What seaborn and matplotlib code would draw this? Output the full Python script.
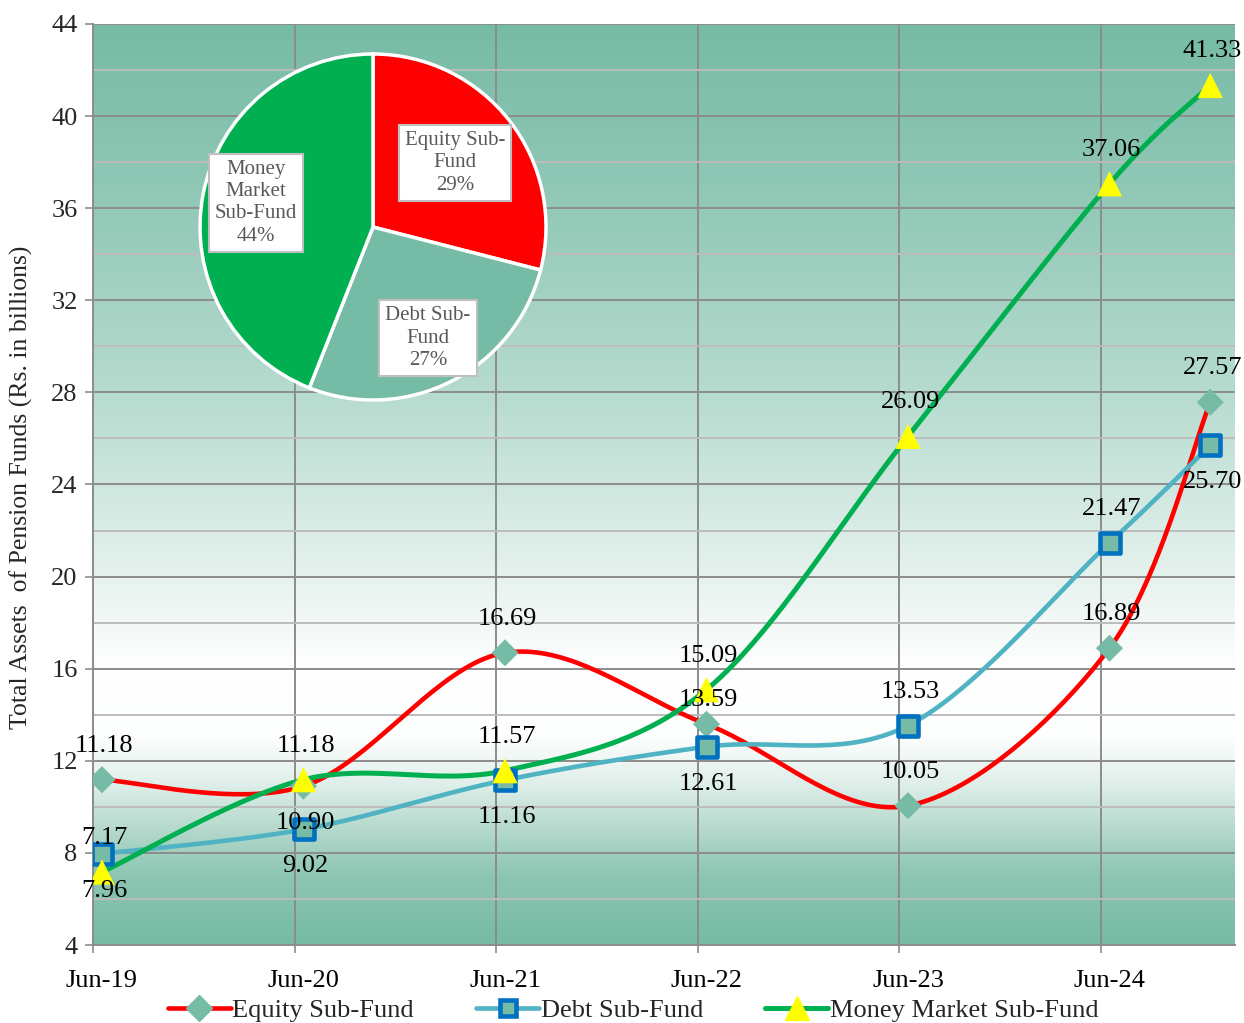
import numpy as np
import pandas as pd
import matplotlib
matplotlib.use("Agg")
import matplotlib.pyplot as plt
import seaborn as sns
from matplotlib.colors import to_rgb
from matplotlib.lines import Line2D

# ---------------- data ----------------
periods = ["Jun-19", "Jun-20", "Jun-21", "Jun-22", "Jun-23", "Jun-24", "Dec-24"]
period_years = [0, 1, 2, 3, 4, 5, 5.5]          # years after Jun-19
equity = [11.18, 10.90, 16.69, 13.59, 10.05, 16.89, 27.57]
debt = [7.96, 9.02, 11.16, 12.61, 13.53, 21.47, 25.70]
money_market = [7.17, 11.18, 11.57, 15.09, 26.09, 37.06, 41.33]
x_tick_labels = ["Jun-19", "Jun-20", "Jun-21", "Jun-22", "Jun-23", "Jun-24"]
series_names = ["Equity Sub-Fund", "Debt Sub-Fund", "Money Market Sub-Fund"]
pie_labels = ["Equity Sub-\nFund", "Debt Sub-\nFund", "Money\nMarket\nSub-Fund"]
pie_shares = [29, 27, 44]

# ---------------- style ----------------
sns.set_theme(style="white")
plt.rcParams['font.family'] = ['Liberation Serif', 'DejaVu Serif']

RED = "#ff0000"
DEBT_LINE = "#4fb3c3"
GREEN = "#00b050"
TEAL = "#76bba5"
BLUE = "#0070c0"
YELLOW = "#ffff00"
GRID = "#8c8c8c"
GRID_MINOR = "#bcbcbc"
FS = 19

W, H = 1244, 1023
fig = plt.figure(figsize=(W / 100, H / 100), dpi=100)
ax_l, ax_r, ax_t, ax_b = 93, 1235, 24, 945
ax = fig.add_axes([ax_l / W, 1 - ax_b / H, (ax_r - ax_l) / W, (ax_b - ax_t) / H])

unit = 201.5
x0 = -9 / unit
x1 = x0 + (ax_r - ax_l) / unit
ax.set_xlim(x0, x1)
ax.set_ylim(4, 44)

# background gradient (vertical)
yy = np.linspace(44, 4, 400)
stops_v = [44, 36, 28, 20, 16, 13, 11, 9, 7, 4]
stops_c = ["#76bba5", "#93c9b8", "#b6dbcf", "#e6f2ee", "#ffffff", "#fdfefe",
           "#e0efea", "#b5d9cc", "#8dc6b3", "#76bba5"]
cols = np.array([to_rgb(c) for c in stops_c])
grad = np.stack([np.interp(yy, stops_v[::-1], cols[::-1, k]) for k in range(3)], axis=-1)
grad = grad[:, None, :].repeat(2, axis=1)
ax.imshow(grad, extent=[x0, x1, 4, 44], aspect='auto', zorder=0, interpolation='bilinear')

# grid / ticks
grid_x = [i + x0 for i in range(6)]
ax.set_xticks(grid_x)
ax.set_xticklabels([""] * 6)
ax.set_xticks(list(range(6)), minor=True)
ax.set_xticklabels(x_tick_labels, minor=True, fontsize=FS)
ax.tick_params(axis='x', which='minor', length=0, pad=18, labelcolor='black')
ax.tick_params(axis='x', which='major', length=6, width=1.2, color=GRID, direction='out')
ax.set_yticks(range(4, 45, 4))
ax.set_yticks(range(6, 44, 4), minor=True)
ax.tick_params(axis='y', which='major', length=6, width=1.2, color=GRID, labelsize=FS, pad=5)
ax.tick_params(axis='y', which='minor', length=0)
ax.tick_params(bottom=True, left=True)
ax.yaxis.grid(True, which='major', color=GRID, lw=1.4, zorder=1)
ax.yaxis.grid(True, which='minor', color=GRID_MINOR, lw=1.4, zorder=1)
ax.xaxis.grid(True, which='major', color=GRID, lw=1.4, zorder=1)
ax.set_axisbelow(True)
for s in ['top', 'right']:
    ax.spines[s].set_visible(False)
for s in ['left', 'bottom']:
    ax.spines[s].set_color(GRID)
    ax.spines[s].set_linewidth(1.4)


def smooth(xs, ys, n=40):
    P = np.column_stack([xs, ys]).astype(float)
    Pe = np.vstack([P[0], P, P[-1]])
    out = []
    t = np.linspace(0, 1, n)[:, None]
    for i in range(len(P) - 1):
        p0, p1, p2, p3 = Pe[i], Pe[i + 1], Pe[i + 2], Pe[i + 3]
        c1 = p1 + (p2 - p0) / 6
        c2 = p2 - (p3 - p1) / 6
        seg = (1 - t) ** 3 * p1 + 3 * (1 - t) ** 2 * t * c1 + 3 * (1 - t) * t ** 2 * c2 + t ** 3 * p2
        out.append(seg if i == 0 else seg[1:])
    return np.vstack(out)


series = [
    (series_names[0], equity, RED, 3.3, dict(marker='D', s=190, color=TEAL, edgecolor='none', linewidth=0)),
    (series_names[1], debt, DEBT_LINE, 3.3, dict(marker='s', s=210, color=TEAL, edgecolor=BLUE, linewidth=3.3)),
    (series_names[2], money_market, GREEN, 3.6, dict(marker='^', s=330, color=YELLOW, edgecolor='none', linewidth=0)),
]

for i, (name, vals, lc, lw, mk) in enumerate(series):
    curve = smooth(period_years, vals)
    dfc = pd.DataFrame({"x": curve[:, 0], "y": curve[:, 1]})
    sns.lineplot(data=dfc, x="x", y="y", ax=ax, color=lc, lw=lw, sort=False,
                 estimator=None, zorder=3 + i, legend=False)

for i, (name, vals, lc, lw, mk) in enumerate(series):
    dfp = pd.DataFrame({"x": period_years, "y": vals})
    sns.scatterplot(data=dfp, x="x", y="y", ax=ax, zorder=6 + i, legend=False, **mk)

ax.set_xlabel("")
ax.set_ylabel("Total Assets  of Pension Funds (Rs. in billions)", fontsize=18.5)
ax.yaxis.set_label_coords((33 - ax_l) / (ax_r - ax_l), 0.497)

# data labels
offs = {'up': 24.5, 'down': -26.5, 'near': 17.5}
label_place = [
    ['up', 'down', 'up', 'near', 'up', 'up', 'up'],
    ['down', 'down', 'down', 'down', 'up', 'up', 'down'],
    ['up'] * 7,
]
for (name, vals, *_), places in zip(series, label_place):
    for xv, v, p in zip(period_years, vals, places):
        ax.annotate(f"{v:.2f}", (xv, v), xytext=(1.5, offs[p]), textcoords='offset points',
                    ha='center', va='center', fontsize=FS, color='black', zorder=10)

# legend
handles = [
    Line2D([], [], color=RED, lw=3.3, marker='D', ms=13, mfc=TEAL, mec=TEAL),
    Line2D([], [], color=DEBT_LINE, lw=3.3, marker='s', ms=12, mfc=TEAL, mec=BLUE, mew=3.3),
    Line2D([], [], color=GREEN, lw=3.6, marker='^', ms=17, mfc=YELLOW, mec=YELLOW),
]
fig.legend(handles, series_names, loc='center', bbox_to_anchor=(633 / W, 1 - 1010 / H),
           ncol=3, frameon=False, fontsize=FS, handlelength=2.4, handletextpad=0.05,
           columnspacing=2.35, borderaxespad=0)

# pie inset
cx, cy, r = 373, 227, 173
half = r * 1.03
axp = fig.add_axes([(cx - half) / W, 1 - (cy + half) / H, 2 * half / W, 2 * half / H])
axp.pie(pie_shares, colors=[RED, TEAL, GREEN], startangle=90, counterclock=False,
        wedgeprops=dict(edgecolor='white', linewidth=2.5))
axp.set_xlim(-1.03, 1.03)
axp.set_ylim(-1.03, 1.03)
axp.set_aspect('auto')
axp.axis('off')
pie_label_pos = [(0.474, 0.37), (0.318, -0.642), (-0.676, 0.139)]
for lab, sh, (px, py) in zip(pie_labels, pie_shares, pie_label_pos):
    axp.text(px, py, f"{lab}\n{sh}%", ha='center', va='center', fontsize=15,
             color='#595959', linespacing=1.22,
             bbox=dict(boxstyle='square,pad=0.3', fc='white', ec='#bfbfbf', lw=1.5))

fig.savefig("out.png", dpi=100)
